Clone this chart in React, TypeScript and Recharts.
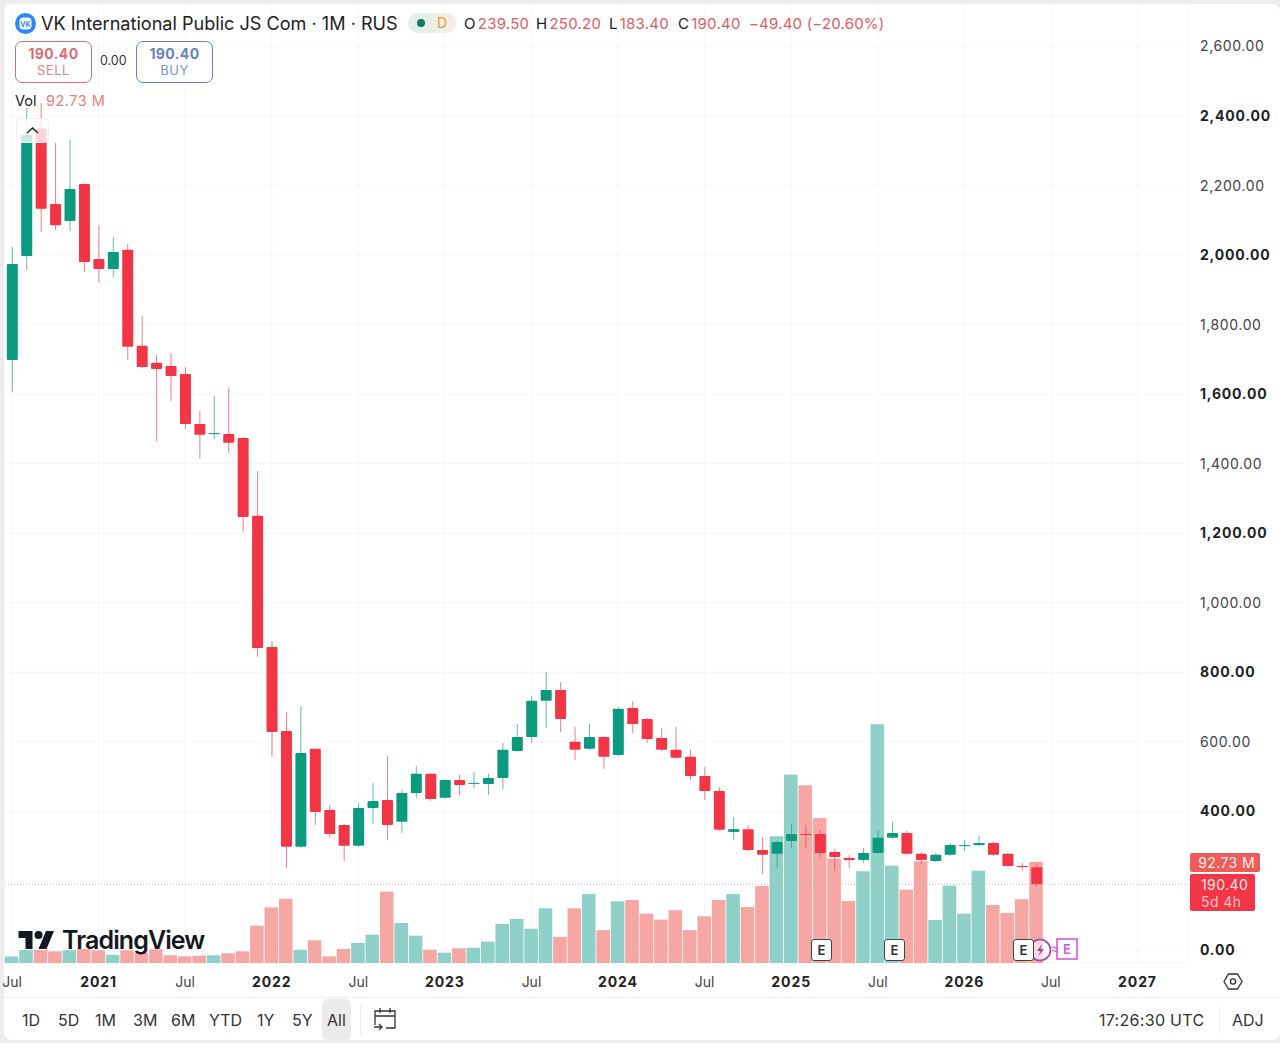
import { ComposedChart, Bar, XAxis, YAxis, CartesianGrid, ReferenceLine } from "recharts";

// ---------------------------------------------------------------------------
// Data
// ---------------------------------------------------------------------------

const months = [
  "2020-07", "2020-08", "2020-09", "2020-10", "2020-11", "2020-12",
  "2021-01", "2021-02", "2021-03", "2021-04", "2021-05", "2021-06",
  "2021-07", "2021-08", "2021-09", "2021-10", "2021-11", "2021-12",
  "2022-01", "2022-02", "2022-03", "2022-04", "2022-05", "2022-06",
  "2022-07", "2022-08", "2022-09", "2022-10", "2022-11", "2022-12",
  "2023-01", "2023-02", "2023-03", "2023-04", "2023-05", "2023-06",
  "2023-07", "2023-08", "2023-09", "2023-10", "2023-11", "2023-12",
  "2024-01", "2024-02", "2024-03", "2024-04", "2024-05", "2024-06",
  "2024-07", "2024-08", "2024-09", "2024-10", "2024-11", "2024-12",
  "2025-01", "2025-02", "2025-03", "2025-04", "2025-05", "2025-06",
  "2025-07", "2025-08", "2025-09", "2025-10", "2025-11", "2025-12",
  "2026-01", "2026-02", "2026-03", "2026-04", "2026-05", "2026-06",
  "2026-07", "2026-08", "2026-09", "2026-10", "2026-11", "2026-12",
  "2027-01", "2027-02", "2027-03", "2027-04",
];

const open = [
  1698, 1997, 2363, 2147, 2098, 2204, 1989, 1960, 2015, 1739, 1690, 1681,
  1658, 1514, 1485, 1485, 1474, 1250, 873, 631, 298, 580, 404, 361,
  301, 410, 433, 370, 453, 508, 439, 490, 480, 479, 496, 574,
  614, 718, 749, 600, 580, 614, 562, 697, 666, 611, 577, 557,
  502, 459, 341, 349, 289, 278, 315, 335, 335, 283, 266, 260,
  280, 324, 338, 278, 257, 275, 302, 303, 309, 278, 243, 239.5,
];
const high = [
  2023, 2423, 2437, 2322, 2331, 2207, 2086, 2052, 2032, 1825, 1713, 1718,
  1678, 1552, 1595, 1618, 1477, 1379, 890, 686, 703, 582, 418, 364,
  424, 482, 559, 462, 531, 510, 493, 505, 513, 508, 597, 651,
  732, 801, 772, 643, 651, 617, 700, 718, 669, 640, 643, 577,
  528, 470, 384, 361, 326, 315, 364, 361, 347, 292, 275, 295,
  344, 370, 344, 283, 280, 309, 318, 329, 312, 280, 252, 250.2,
];
const low = [
  1606, 1957, 2066, 2072, 2069, 1951, 1920, 1937, 1698, 1675, 1465, 1580,
  1500, 1414, 1471, 1431, 1204, 844, 557, 237, 295, 361, 324, 257,
  298, 364, 318, 338, 439, 430, 436, 447, 467, 447, 464, 571,
  597, 640, 628, 548, 577, 522, 559, 626, 597, 574, 551, 490,
  433, 344, 318, 286, 220, 237, 295, 295, 269, 229, 237, 252,
  278, 321, 275, 249, 255, 272, 286, 301, 272, 240, 229, 183.4,
];
const close = [
  1974, 2345, 2133, 2086, 2190, 1980, 1960, 2009, 1736, 1678, 1672, 1652,
  1514, 1483, 1488, 1460, 1247, 870, 628, 298, 568, 398, 335, 301,
  410, 430, 361, 453, 508, 436, 490, 476, 482, 496, 577, 614,
  718, 749, 666, 577, 614, 557, 695, 651, 608, 577, 554, 502,
  459, 347, 349, 289, 275, 312, 335, 334, 280, 269, 260, 280,
  324, 338, 278, 260, 275, 303, 303, 309, 275, 243, 242, 190.4,
];
const volume = [
  6.1, 11.9, 11.9, 10.7, 11.7, 12.9, 11.7, 7.6, 11.7, 9.2, 12.6, 7.1,
  6.1, 6.7, 7.1, 8.9, 10.7, 34.2, 51.1, 59, 12.2, 20.8, 6.1, 12.9,
  18.4, 26, 65.5, 36.7, 25.1, 12.2, 9.5, 13.5, 14, 19.6, 35.8, 40.4,
  31.5, 50.2, 24.1, 50.2, 63.3, 30.3, 56.6, 57.8, 45.3, 39.8, 48.4, 30.3,
  42.9, 57.8, 63.3, 51.4, 70.7, 116.3, 172.9, 163.1, 133.1, 95.8, 56.9, 84.2,
  219.1, 89.3, 67.3, 93.4, 39.5, 71, 45.3, 84.7, 53.2, 45.9, 58.5, 92.73,
];

const priceTicks = [0, 200, 400, 600, 800, 1000, 1200, 1400, 1600, 1800, 2000, 2200, 2400, 2600];
const monthTicks = [
  "2020-07", "2021-01", "2021-07", "2022-01", "2022-07", "2023-01", "2023-07",
  "2024-01", "2024-07", "2025-01", "2025-07", "2026-01", "2026-07", "2027-01",
];
const lastPrice = 190.4;

const rangeButtons = ["1D", "5D", "1M", "3M", "6M", "YTD", "1Y", "5Y", "All"];
const rangeLefts = [22, 58, 95, 133, 171, 209, 257, 292, 327];

const chartData = months.map((month, i) =>
  i < open.length
    ? {
        month,
        open: open[i],
        high: high[i],
        low: low[i],
        close: close[i],
        volume: volume[i],
        range: [low[i], high[i]],
      }
    : { month },
);

// ---------------------------------------------------------------------------
// Styling
// ---------------------------------------------------------------------------

const UP = "#0c9a7e";
const DOWN = "#f23645";
const VOL_UP = "#8fd1c9";
const VOL_DOWN = "#f6a7a4";
const TEXT_RED = "#e25c66";
const FONT = "Inter, 'Noto Sans', sans-serif";

// ---------------------------------------------------------------------------
// Shapes
// ---------------------------------------------------------------------------

function Candle(props: any) {
  const { x, y, width, height, payload } = props;
  if (!payload || payload.open === undefined) return null;
  const { open: o, close: c, high: h, low: l } = payload;
  const perUnit = Math.abs(height) / (h - l);
  const color = c >= o ? UP : DOWN;
  const top = y + (h - Math.max(o, c)) * perUnit;
  const bodyH = Math.max(1, Math.abs(o - c) * perUnit);
  const cx = x + width / 2;
  return (
    <g>
      <line x1={cx} x2={cx} y1={y} y2={y + Math.abs(height)} stroke={color} strokeOpacity={0.65} strokeWidth={1} />
      <rect x={x} y={top} width={width} height={bodyH} fill={color} rx={bodyH > 3 ? 1 : 0} />
    </g>
  );
}

function VolumeBar(props: any) {
  const { x, y, width, height, payload } = props;
  if (!payload || payload.open === undefined) return null;
  return <rect x={x} y={y} width={width} height={height} fill={payload.close >= payload.open ? VOL_UP : VOL_DOWN} />;
}

function MonthTick(props: any) {
  const { x, payload } = props;
  const value: string = payload.value;
  const isYear = value.endsWith("-01");
  return (
    <text
      x={x}
      y={987}
      textAnchor="middle"
      fontFamily={FONT}
      fontSize={14}
      fontWeight={isYear ? 700 : 400}
      letterSpacing={isYear ? 0.9 : 0}
      fill={isYear ? "#222" : "#444"}
    >
      {isYear ? value.slice(0, 4) : "Jul"}
    </text>
  );
}

function PriceTick(props: any) {
  const { y, payload } = props;
  const v: number = payload.value;
  if (v === 200) return null;
  const bold = v % 400 === 0;
  return (
    <text
      x={1200}
      y={y + 5}
      fontFamily={FONT}
      fontSize={14}
      fontWeight={bold ? 700 : 400}
      letterSpacing={bold ? 0.8 : 0.6}
      fill={bold ? "#222" : "#444"}
    >
      {v.toLocaleString("en-US", { minimumFractionDigits: 2 })}
    </text>
  );
}

// ---------------------------------------------------------------------------
// Overlay pieces
// ---------------------------------------------------------------------------

function At({ left, top, style, children }: any) {
  return (
    <div style={{ position: "absolute", left, top, whiteSpace: "nowrap", ...style }}>{children}</div>
  );
}

function PriceBox({ left, color, price, label }: any) {
  return (
    <div
      style={{
        position: "absolute",
        left,
        top: 41,
        width: 75,
        height: 40,
        border: `1px solid ${color}`,
        borderRadius: 7,
        textAlign: "center",
        background: "#fff",
      }}
    >
      <div style={{ fontSize: 14, fontWeight: 700, letterSpacing: 0.4, color, marginTop: 3, lineHeight: "17px" }}>{price}</div>
      <div style={{ fontSize: 13, letterSpacing: 0.5, color, opacity: 0.85, lineHeight: "16px" }}>{label}</div>
    </div>
  );
}

function EBadge({ left }: any) {
  return (
    <div
      style={{
        position: "absolute",
        left,
        top: 939,
        width: 19,
        height: 20,
        border: "1.5px solid #444",
        borderRadius: 3,
        background: "#fff",
        color: "#333",
        fontSize: 13,
        fontWeight: 600,
        lineHeight: "20px",
        textAlign: "center",
      }}
    >
      E
    </div>
  );
}

function Ohlc({ left, letter, value }: any) {
  return (
    <At left={left} top={14} style={{ fontSize: 15, lineHeight: "20px", letterSpacing: 0.25 }}>
      <span style={{ color: "#222", marginRight: 2 }}>{letter}</span>
      <span style={{ color: TEXT_RED }}>{value}</span>
    </At>
  );
}

// ---------------------------------------------------------------------------
// Component
// ---------------------------------------------------------------------------

export default function App() {
  return (
    <div style={{ position: "fixed", left: 0, top: 0, width: 1280, height: 1043, background: "#ededed", overflow: "hidden", fontFamily: FONT }}>
      <div style={{ position: "absolute", left: 4, top: 4, width: 1276, height: 1036, background: "#fff", borderRadius: 8 }} />
      <div style={{ position: "absolute", left: 0, top: 0 }}>
        <ComposedChart
          width={1280}
          height={997}
          data={chartData}
          margin={{ top: 4, right: 0, bottom: 0, left: 4.8 }}
        >
          <CartesianGrid xAxisId="main" yAxisId="price" stroke="#f6f6f6" />
          <XAxis
            xAxisId="main"
            dataKey="month"
            ticks={monthTicks}
            interval={0}
            height={34}
            tickLine={false}
            axisLine={false}
            tick={<MonthTick />}
          />
          <XAxis xAxisId="vol" dataKey="month" hide />
          <YAxis
            yAxisId="price"
            orientation="right"
            width={92}
            domain={[-36, 2722]}
            ticks={priceTicks}
            interval={0}
            allowDataOverflow
            tickLine={false}
            axisLine={false}
            tick={<PriceTick />}
          />
          <YAxis yAxisId="volume" hide domain={[0, 880]} allowDataOverflow />
          <Bar xAxisId="vol" yAxisId="volume" dataKey="volume" barSize={13.6} shape={<VolumeBar />} isAnimationActive={false} />
          <ReferenceLine xAxisId="main" yAxisId="price" y={lastPrice} stroke="#bdbdbd" strokeDasharray="1 2" />
          <Bar xAxisId="main" yAxisId="price" dataKey="range" barSize={11} shape={<Candle />} isAnimationActive={false} />
        </ComposedChart>
      </div>

      {/* Header */}
      <svg style={{ position: "absolute", left: 14, top: 12 }} width={23} height={23}>
        <circle cx={11.5} cy={11.5} r={10.5} fill="#2a8bf0" />
        <rect x={5.5} y={5.5} width={12} height={12} rx={4} fill="#fff" />
        <text x={11.5} y={14.5} fontSize={7} fontWeight={700} textAnchor="middle" fill="#2a8bf0" fontFamily={FONT}>VK</text>
      </svg>
      <At left={41} top={12} style={{ fontSize: 18.1, lineHeight: "23px", color: "#222" }}>
        VK International Public JS Com · 1M · RUS
      </At>
      <div style={{ position: "absolute", left: 408, top: 13, width: 49, height: 20, borderRadius: 10, background: "linear-gradient(90deg,#dfeeea,#f8efe2)" }} />
      <div style={{ position: "absolute", left: 417, top: 19, width: 8, height: 8, borderRadius: 4, background: "#0b7a65" }} />
      <At left={437} top={14} style={{ fontSize: 14, lineHeight: "18px", color: "#ee9a3a" }}>D</At>
      <Ohlc left={464} letter="O" value="239.50" />
      <Ohlc left={536} letter="H" value="250.20" />
      <Ohlc left={609} letter="L" value="183.40" />
      <Ohlc left={678} letter="C" value="190.40" />
      <At left={749} top={14} style={{ fontSize: 15, lineHeight: "20px", letterSpacing: 0.2, color: TEXT_RED }}>
        −49.40 (−20.60%)
      </At>

      <PriceBox left={15} color="#dc6d77" price="190.40" label="SELL" />
      <At left={100} top={53} style={{ fontSize: 12.5, lineHeight: "16px", color: "#333" }}>0.00</At>
      <PriceBox left={136} color="#6684bd" price="190.40" label="BUY" />
      <At left={15} top={92} style={{ fontSize: 14.5, lineHeight: "18px", color: "#222" }}>Vol</At>
      <At left={46} top={92} style={{ fontSize: 14.5, lineHeight: "18px", letterSpacing: 0.5, color: "#e67f85" }}>92.73 M</At>

      <svg style={{ position: "absolute", left: 16, top: 118 }} width={33} height={25}>
        <rect x={0.5} y={0.5} width={32} height={24} rx={4} fill="#fff" fillOpacity={0.78} stroke="#eee" />
        <path d="M11 15l5.5-5 5.5 5" fill="none" stroke="#222" strokeWidth={1.4} />
      </svg>

      {/* TradingView mark */}
      <svg style={{ position: "absolute", left: 18, top: 927 }} width={37} height={28} viewBox="0 0 36 28">
        <path d="M14 22H7V11H0V4h14v18zM28 22h-8l7.5-18h8L28 22z" fill="#131722" />
        <circle cx={20} cy={8} r={4} fill="#131722" />
      </svg>
      <At left={62} top={924} style={{ fontSize: 25, lineHeight: "32px", fontWeight: 600, letterSpacing: -0.9, color: "#131722" }}>
        TradingView
      </At>

      {/* Earnings markers */}
      <EBadge left={811} />
      <EBadge left={884} />
      <svg style={{ position: "absolute", left: 1028, top: 936 }} width={54} height={28}>
        <circle cx={12} cy={14} r={10.5} fill="#fff" fillOpacity={0.6} stroke="#a43fb8" strokeWidth={1.6} />
        <path d="M14 8l-5 7h3.5l-2 5 5.5-7h-3.5z" fill="#a43fb8" />
        <rect x={29} y={3} width={20} height={20} fill="#fff" stroke="#d957e0" strokeWidth={1.6} />
        <text x={39} y={18} fontSize={13} fontWeight={600} textAnchor="middle" fill="#d957e0" fontFamily={FONT}>E</text>
        <path d="M24 11.5q1.5-1.5 3 0t3 0M24 15q1.5-1.5 3 0t3 0" fill="none" stroke="#d957e0" strokeWidth={1.1} />
      </svg>
      <EBadge left={1013} />

      {/* Price pills */}
      <div style={{ position: "absolute", left: 1190, top: 853, width: 70, height: 19, borderRadius: 2, background: "#ec5d5a", color: "#fde9e8", fontSize: 14, lineHeight: "19px", letterSpacing: 0.4, textAlign: "right", paddingRight: 5, boxSizing: "border-box" }}>
        92.73 M
      </div>
      <div style={{ position: "absolute", left: 1190, top: 874, width: 65, height: 37, borderRadius: 2, background: "#f23645", color: "#fde3e5", fontSize: 14, lineHeight: "17px", letterSpacing: 0.4, paddingLeft: 11, paddingTop: 2, boxSizing: "border-box" }}>
        <div>190.40</div>
        <div style={{ opacity: 0.8 }}>5d 4h</div>
      </div>

      {/* Axis settings */}
      <svg style={{ position: "absolute", left: 1223, top: 972 }} width={20} height={19}>
        <path d="M5.5 2h9L19 9.5 14.5 17h-9L1 9.5z" fill="none" stroke="#333" strokeWidth={1.3} />
        <circle cx={10} cy={9.5} r={2.6} fill="none" stroke="#333" strokeWidth={1.3} />
      </svg>

      {/* Bottom toolbar */}
      <div style={{ position: "absolute", left: 4, top: 997, width: 1276, height: 1, background: "#f1f1f1" }} />
      <div style={{ position: "absolute", left: 322, top: 999, width: 29, height: 41, borderRadius: 6, background: "#ebebeb" }} />
      {rangeButtons.map((b, i) => (
        <At key={b} left={rangeLefts[i]} top={1010} style={{ fontSize: 16, lineHeight: "20px", color: "#333" }}>{b}</At>
      ))}
      <div style={{ position: "absolute", left: 360, top: 1005, width: 1, height: 30, background: "#eee" }} />
      <svg style={{ position: "absolute", left: 373, top: 1007 }} width={24} height={25} fill="none" stroke="#333" strokeWidth={1.3}>
        <path d="M2 18V4h20v17h-9" />
        <path d="M2 9h20M7 1v5M17 1v5" />
        <path d="M1 20h8M6 17l3 3-3 3" />
      </svg>
      <At left={1099} top={1010} style={{ fontSize: 16, lineHeight: "20px", letterSpacing: 0.3, color: "#333" }}>17:26:30 UTC</At>
      <div style={{ position: "absolute", left: 1219, top: 1006, width: 1, height: 28, background: "#eee" }} />
      <At left={1232} top={1010} style={{ fontSize: 16, lineHeight: "20px", color: "#333" }}>ADJ</At>
    </div>
  );
}
